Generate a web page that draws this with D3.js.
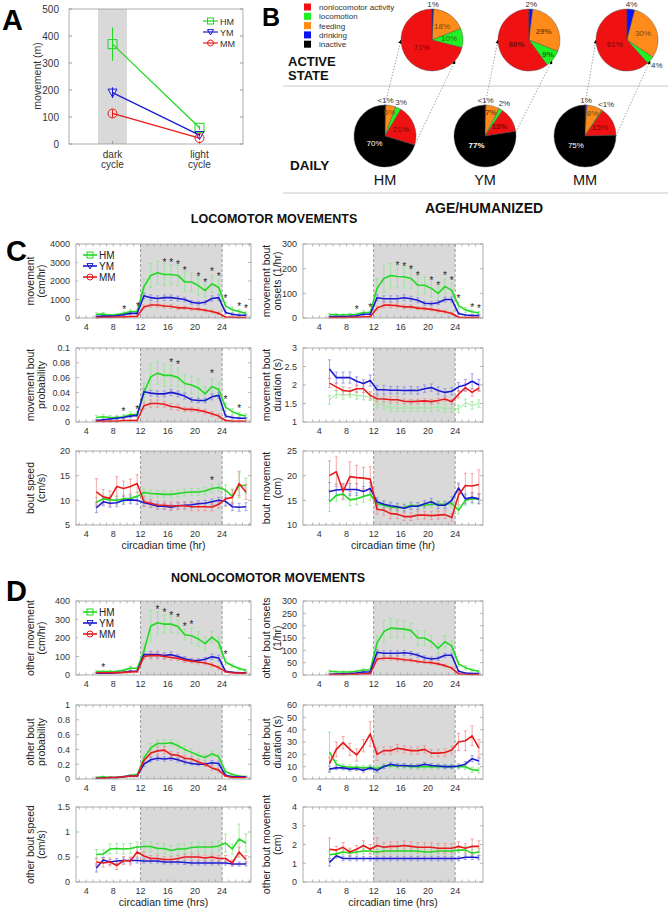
<!DOCTYPE html>
<html><head><meta charset="utf-8">
<script src="https://cdn.jsdelivr.net/npm/d3@7"></script>
<style>body{margin:0;background:#fff} svg{display:block} text{font-family:"Liberation Sans",Arial,sans-serif}</style>
</head><body><svg id="c" width="668" height="912"></svg>
<script>
// ---------------- DATA ----------------
const groups = ["HM", "YM", "MM"];
const hours = [5.5,6.5,7.5,8.5,9.5,10.5,11.5,12.5,13.5,14.5,15.5,16.5,17.5,18.5,19.5,20.5,21.5,22.5,23.5,24.5,25.5,26.5,27.5];
const xTickLabels = [4, 8, 12, 16, 20, 24];

// Panel A
const cycles = ["dark", "light"];
const aHM = [370, 60], aHMerr = [62, 8];
const aYM = [190, 33], aYMerr = [20, 5];
const aMM = [113, 22], aMMerr = [15, 4];
const aTicks = [0, 100, 200, 300, 400, 500];

// Panel B
const pieCats = ["drinking", "feeding", "locomotion", "nonlocomotor activity", "inactive"];
const legendCats = ["nonlocomotor activity", "locomotion", "feeding", "drinking", "inactive"];
const activeHM = [1, 18, 10, 71, 0], activeHMlab = ["1%", "18%", "10%", "71%", ""];
const activeYM = [2, 29, 9, 60, 0], activeYMlab = ["2%", "29%", "9%", "60%", ""];
const activeMM = [4, 30, 4, 61, 0], activeMMlab = ["4%", "30%", "4%", "61%", ""];
const dailyHM = [0.5, 5, 3, 21, 70], dailyHMlab = ["<1%", "5%", "3%", "21%", "70%"];
const dailyYM = [0.5, 7, 2, 13, 77], dailyYMlab = ["<1%", "7%", "2%", "13%", "77%"];
const dailyMM = [1, 8, 0.5, 15, 75], dailyMMlab = ["1%", "8%", "<1%", "15%", "75%"];

// Panel C row 1 left: movement (cm/hr)
const c1L_HM = [200,220,150,180,250,350,350,1700,2300,2450,2350,2350,2300,1950,1950,1750,1480,1850,1650,650,450,350,250];
const c1L_HMe = [80,80,60,60,80,100,100,400,650,600,600,550,550,550,500,500,350,450,400,200,150,100,80];
const c1L_YM = [80,100,100,120,180,250,250,1200,1100,1050,1100,1100,1050,1000,850,800,850,1050,1100,300,200,150,150];
const c1L_YMe = [40,40,40,40,50,60,60,150,150,150,150,150,130,120,100,100,100,150,150,80,60,50,50];
const c1L_MM = [30,40,40,50,60,80,80,600,700,700,650,620,550,550,500,480,420,350,250,50,40,30,30];
const c1L_MMe = [20,20,20,20,20,30,30,100,120,120,100,100,100,90,80,80,80,80,70,30,20,20,20];
const c1L_stars = [[9.6,540],[11.6,660],[15.5,3050],[16.5,3050],[17.5,2960],[18.5,2600],[20.5,2280],[21.5,1970],[22.5,2560],[23.5,2280],[24.5,1130],[26.5,700],[27.5,590]];
const c1L_ticks = [0,1000,2000,3000,4000];

// C row 1 right: movement bout onsets (1/hr)
const c1R_HM = [13,13,12,14,15,22,22,120,160,172,168,167,160,133,133,120,100,128,112,50,33,25,20];
const c1R_HMe = [5,5,5,5,5,8,8,40,55,50,45,45,40,40,35,35,30,30,30,15,10,8,6];
const c1R_YM = [5,6,6,7,9,15,15,82,78,78,78,82,78,72,60,58,62,75,75,18,12,10,10];
const c1R_YMe = [2,2,2,2,3,4,4,12,12,12,12,12,10,10,8,8,8,10,10,5,3,3,3];
const c1R_MM = [2,2,2,3,3,5,5,40,52,52,50,45,45,40,38,35,30,25,18,3,2,2,2];
const c1R_MMe = [1,1,1,1,1,2,2,8,10,10,8,8,8,6,6,6,6,6,5,2,1,1,1];
const c1R_stars = [[9.5,40],[11.5,46],[15.5,218],[16.5,211],[17.5,200],[18.5,176],[20.5,156],[21.5,135],[22.5,176],[23.5,155],[24.5,83],[26.5,46],[27.5,42]];
const c1R_ticks = [0,100,200,300];

// C row 2 left: movement bout probability
const c2L_HM = [0.006,0.007,0.006,0.006,0.007,0.01,0.01,0.04,0.061,0.066,0.063,0.063,0.06,0.052,0.05,0.046,0.038,0.048,0.044,0.02,0.014,0.01,0.008];
const c2L_HMe = [0.003,0.003,0.003,0.003,0.003,0.004,0.004,0.012,0.018,0.015,0.015,0.014,0.013,0.012,0.012,0.012,0.01,0.01,0.01,0.006,0.004,0.003,0.003];
const c2L_YM = [0.002,0.003,0.004,0.005,0.006,0.008,0.009,0.041,0.039,0.038,0.038,0.04,0.038,0.035,0.03,0.029,0.029,0.034,0.036,0.008,0.006,0.005,0.005];
const c2L_YMe = [0.001,0.001,0.001,0.002,0.002,0.002,0.002,0.004,0.004,0.004,0.004,0.004,0.004,0.004,0.003,0.003,0.003,0.004,0.004,0.002,0.002,0.001,0.001];
const c2L_MM = [0.001,0.001,0.001,0.001,0.002,0.002,0.002,0.022,0.025,0.025,0.024,0.021,0.02,0.017,0.017,0.016,0.014,0.011,0.008,0.002,0.001,0.001,0.001];
const c2L_MMe = [0.001,0.001,0.001,0.001,0.001,0.001,0.001,0.004,0.005,0.005,0.004,0.004,0.004,0.003,0.003,0.003,0.003,0.003,0.003,0.001,0.001,0.001,0.001];
const c2L_stars = [[9.5,0.016],[11.5,0.018],[16.5,0.082],[17.5,0.079],[22.5,0.067],[24.5,0.032],[26.5,0.019]];
const c2L_ticks = [0,0.02,0.04,0.06,0.08,0.1];

// C row 2 right: movement bout duration (s)
const c2R_HM = [1.6,1.75,1.72,1.75,1.72,1.7,1.68,1.5,1.45,1.38,1.38,1.38,1.38,1.38,1.38,1.38,1.4,1.37,1.37,1.35,1.52,1.45,1.5];
const c2R_HMe = [0.12,0.1,0.1,0.08,0.1,0.1,0.1,0.12,0.1,0.1,0.1,0.1,0.1,0.1,0.1,0.1,0.1,0.1,0.1,0.1,0.1,0.1,0.1];
const c2R_YM = [2.43,2.2,2.2,2.2,2.1,2.04,2.12,1.87,1.87,1.86,1.86,1.85,1.86,1.85,1.9,1.93,1.85,1.8,1.83,1.95,2.0,2.1,2.0];
const c2R_YMe = [0.25,0.15,0.15,0.15,0.12,0.1,0.15,0.12,0.12,0.1,0.1,0.1,0.1,0.1,0.1,0.1,0.1,0.1,0.1,0.12,0.15,0.2,0.15];
const c2R_MM = [2.05,1.95,1.85,1.83,1.9,1.9,1.72,1.63,1.62,1.6,1.6,1.56,1.55,1.56,1.57,1.55,1.58,1.62,1.55,1.75,1.93,1.8,1.92];
const c2R_MMe = [0.12,0.1,0.1,0.1,0.1,0.1,0.1,0.08,0.08,0.08,0.08,0.06,0.06,0.06,0.06,0.06,0.06,0.06,0.06,0.1,0.1,0.1,0.1];
const c2R_ticks = [1,1.5,2,2.5,3];

// C row 3 left: bout speed (cm/s)
const c3L_HM = [9.6,10.3,10.1,10.0,10.3,10.4,10.8,11.6,11.4,11.3,11.2,11.2,11.4,11.6,11.7,11.7,11.9,12.4,12.6,12.1,10.8,13.0,13.0];
const c3L_HMe = [1,0.8,0.8,0.8,0.8,0.8,0.8,0.7,0.7,0.7,0.7,0.7,0.7,0.7,0.7,0.7,0.7,0.8,0.8,1,1.5,2.5,1.5];
const c3L_YM = [8.5,9.7,9.4,9.5,10.0,10.1,10.0,9.5,9.2,8.8,8.8,8.6,8.9,9.0,9.1,9.3,9.4,9.7,10.0,9.8,8.7,8.6,8.7];
const c3L_YMe = [1,0.8,0.8,0.8,0.8,0.8,0.8,0.6,0.6,0.6,0.6,0.6,0.6,0.6,0.6,0.6,0.6,0.6,0.6,0.8,0.8,0.8,0.8];
const c3L_MM = [11.7,10.7,10.4,12.8,12.4,12.8,13.4,9.7,9.4,9.05,9.0,8.85,8.9,8.9,8.7,8.7,8.7,8.65,9.2,10.3,10.6,13.4,11.7];
const c3L_MMe = [2.7,1.5,1.5,2,1.5,1.5,1.8,1,0.8,0.8,0.8,0.8,0.8,0.8,0.8,0.8,0.8,0.8,0.8,1.5,1.5,2.5,1.5];
const c3L_stars = [[22.5,14.3]];
const c3L_ticks = [5,10,15,20];

// C row 3 right: bout movement (cm)
const c3R_HM = [14.7,16.0,16.3,15.1,15.3,15.8,16.2,14.3,14.0,13.6,13.5,13.6,14.0,13.9,14.0,14.2,14.2,14.2,14.4,13.0,15.0,15.3,15.3];
const c3R_HMe = [2,1.2,1.2,1.2,1.2,1.2,1.2,0.8,0.7,0.7,0.7,0.7,0.7,0.7,0.7,0.7,0.7,0.7,0.7,0.8,1,1,1];
const c3R_YM = [16.8,17.1,17.2,17.2,17.2,16.8,17.4,14.7,14.2,13.9,13.7,13.4,13.8,13.8,14.3,14.7,14.0,14.0,15.0,17.5,15.3,15.6,15.3];
const c3R_YMe = [1.8,1.2,1.2,1.2,1.2,1.0,1.2,0.8,0.7,0.7,0.7,0.7,0.7,0.7,0.7,0.7,0.7,0.7,0.7,1,1,1,1];
const c3R_MM = [20.0,20.8,16.8,19.8,19.6,19.5,19.3,13.2,13.0,12.3,12.2,11.7,11.7,12.0,12.0,11.9,12.0,12.1,11.5,16.1,18.0,17.9,18.2];
const c3R_MMe = [3,3,1.5,3,2.5,2.2,2.5,1,1,1,0.9,0.8,0.8,0.8,0.8,0.8,0.8,0.8,0.8,2,2.5,2.5,3];
const c3R_ticks = [10,15,20,25];

// D row 1 left: other movement (cm/hr)
const d1L_HM = [18,18,18,20,25,38,35,130,265,282,275,275,262,218,212,195,170,205,175,70,50,35,25];
const d1L_HMe = [5,5,5,5,6,8,8,40,85,60,50,45,35,30,40,40,35,30,30,15,10,8,6];
const d1L_YM = [10,10,10,12,15,20,20,110,110,110,105,110,100,88,80,78,85,98,92,20,15,12,12];
const d1L_YMe = [3,3,3,3,3,4,4,18,18,18,15,15,12,12,10,10,10,15,15,5,3,3,3];
const d1L_MM = [12,12,12,13,14,16,18,100,105,105,100,95,90,80,75,70,65,55,40,18,12,10,10];
const d1L_MMe = [3,3,3,3,3,4,4,15,18,18,15,15,12,12,10,10,10,10,8,4,3,3,3];
const d1L_stars = [[6.5,48],[14.5,357],[15.5,343],[16.5,329],[17.5,316],[18.5,268],[19.5,277],[24.5,116]];
const d1L_ticks = [0,100,200,300,400];

// D row 1 right: other bout onsets (1/hr)
const d1R_HM = [15,13,12,12,15,20,20,130,176,190,188,186,180,150,150,135,108,135,118,45,30,20,15];
const d1R_HMe = [4,4,4,4,4,5,5,30,45,40,35,35,30,30,30,25,20,25,20,10,8,5,4];
const d1R_YM = [3,4,5,6,8,12,12,92,88,88,88,90,87,80,70,65,68,80,80,15,8,6,6];
const d1R_YMe = [1,1,1,1,2,2,2,10,10,10,10,10,8,8,8,8,8,8,8,3,2,2,2];
const d1R_MM = [2,2,2,3,3,5,5,65,68,68,66,62,60,55,52,50,45,38,28,5,3,2,2];
const d1R_MMe = [1,1,1,1,1,1,1,8,8,8,8,7,7,6,6,6,5,5,5,2,1,1,1];
const d1R_ticks = [0,50,100,150,200,250,300];

// D row 2 left: other bout probability
const d2L_HM = [0.02,0.03,0.02,0.02,0.03,0.05,0.06,0.28,0.42,0.48,0.48,0.49,0.45,0.40,0.36,0.32,0.29,0.34,0.30,0.10,0.06,0.04,0.03];
const d2L_HMe = [0.01,0.01,0.01,0.01,0.01,0.01,0.01,0.05,0.06,0.05,0.05,0.04,0.05,0.05,0.05,0.04,0.04,0.04,0.04,0.02,0.01,0.01,0.01];
const d2L_YM = [0.01,0.01,0.02,0.02,0.03,0.04,0.04,0.2,0.26,0.28,0.27,0.28,0.26,0.23,0.21,0.2,0.2,0.22,0.21,0.05,0.03,0.03,0.03];
const d2L_YMe = [0.005,0.005,0.005,0.005,0.005,0.01,0.01,0.03,0.03,0.03,0.03,0.03,0.03,0.03,0.02,0.02,0.02,0.03,0.03,0.01,0.005,0.005,0.005];
const d2L_MM = [0.01,0.01,0.02,0.02,0.03,0.04,0.04,0.25,0.35,0.38,0.39,0.33,0.32,0.28,0.27,0.23,0.2,0.15,0.12,0.04,0.02,0.02,0.02];
const d2L_MMe = [0.005,0.005,0.005,0.005,0.005,0.01,0.01,0.04,0.05,0.05,0.05,0.04,0.04,0.04,0.03,0.03,0.03,0.03,0.03,0.01,0.005,0.005,0.005];
const d2L_ticks = [0,0.2,0.4,0.6,0.8,1];

// D row 2 right: other bout duration (s)
const d2R_HM = [22,12,10,9.5,9.5,9,9.5,8.5,10.5,11,10.5,10.5,10,10,10,10,10,10,10,10,10,7.5,7];
const d2R_HMe = [16,3,2,2,2,2,2,2,2,2,2,2,2,2,2,2,2,2,2,2,2,2,2];
const d2R_YM = [8,9,9,8,8.5,7,9,7,10,12,11,11,10.5,10.5,12,11,10.5,10,10,10.5,12,16.5,14.5];
const d2R_YMe = [2.5,1.5,1.5,1.5,1.5,1.5,1.5,1.5,1.5,1.5,1.5,1.5,1.5,1.5,1.5,1.5,1.5,1.5,1.5,1.5,2,2.5,2.5];
const d2R_MM = [12.5,24,29.5,24,19.5,27,36.5,20,23,23,25,24,23,23,24,21,21,21.5,23.5,30,31,35,25];
const d2R_MMe = [5,6,5,5,5,5,10,5,3,3,3,3,3,3,3,3,3,3,3,7,8,8,7];
const d2R_ticks = [0,10,20,30,40,50,60];

// D row 3 left: other bout speed (cm/s)
const d3L_HM = [0.55,0.56,0.66,0.67,0.66,0.67,0.7,0.71,0.71,0.67,0.67,0.63,0.66,0.66,0.69,0.7,0.7,0.7,0.72,0.78,0.66,0.86,0.78];
const d3L_HMe = [0.1,0.08,0.1,0.1,0.1,0.1,0.1,0.1,0.1,0.1,0.1,0.1,0.1,0.1,0.1,0.1,0.1,0.1,0.1,0.18,0.1,0.3,0.18];
const d3L_YM = [0.28,0.44,0.4,0.42,0.43,0.43,0.43,0.42,0.42,0.42,0.4,0.4,0.4,0.39,0.38,0.38,0.38,0.38,0.38,0.38,0.36,0.36,0.36];
const d3L_YMe = [0.08,0.05,0.05,0.05,0.05,0.05,0.05,0.04,0.04,0.04,0.04,0.04,0.04,0.04,0.04,0.04,0.04,0.04,0.04,0.04,0.04,0.04,0.04];
const d3L_MM = [0.4,0.38,0.4,0.33,0.43,0.42,0.6,0.52,0.47,0.47,0.45,0.45,0.47,0.5,0.5,0.5,0.48,0.5,0.47,0.47,0.38,0.6,0.45];
const d3L_MMe = [0.08,0.08,0.08,0.08,0.08,0.08,0.1,0.08,0.06,0.06,0.06,0.06,0.06,0.06,0.06,0.06,0.06,0.06,0.06,0.06,0.06,0.1,0.08];
const d3L_ticks = [0,0.5,1,1.5];

// D row 3 right: other bout movement (cm)
const d3R_HM = [1.45,1.5,1.6,1.55,1.6,1.65,1.65,1.6,1.65,1.65,1.65,1.65,1.65,1.65,1.6,1.6,1.65,1.65,1.65,1.7,1.7,1.55,1.6];
const d3R_HMe = [0.2,0.15,0.15,0.15,0.15,0.15,0.15,0.15,0.15,0.15,0.15,0.15,0.15,0.15,0.15,0.15,0.15,0.15,0.15,0.15,0.2,0.2,0.2];
const d3R_YM = [1.05,1.4,1.25,1.25,1.25,1.25,1.25,1.25,1.25,1.25,1.25,1.25,1.25,1.25,1.25,1.25,1.25,1.25,1.25,1.25,1.32,1.32,1.3];
const d3R_YMe = [0.2,0.12,0.12,0.12,0.12,0.12,0.12,0.12,0.12,0.12,0.12,0.12,0.12,0.12,0.12,0.12,0.12,0.12,0.12,0.12,0.12,0.12,0.12];
const d3R_MM = [1.75,1.7,1.85,1.6,1.75,1.95,1.75,1.95,1.85,1.9,1.9,1.95,1.9,1.85,1.85,1.85,1.8,1.8,1.8,1.9,1.8,1.9,1.9];
const d3R_MMe = [0.6,0.2,0.25,0.2,0.2,0.25,0.25,0.4,0.25,0.25,0.25,0.25,0.25,0.25,0.25,0.25,0.25,0.25,0.25,0.25,0.25,0.4,0.3];
const d3R_ticks = [0,1,2,3,4];

// ---------------- DRAWING ----------------
const svg = d3.select("#c");
const lineColor = {HM: "#22d822", YM: "#1a1ad0", MM: "#e81a1a"};
const errColor = {HM: "#8de88d", YM: "#8c8ce6", MM: "#f09090"};
const fadedColor = {HM: "#9be89b", YM: "#1a1ad0", MM: "#e81a1a"};

function txt(g, x, y, s, size, opts = {}) {
  const t = g.append("text").attr("x", x).attr("y", y).text(s)
    .attr("font-size", size).attr("fill", opts.fill || "#222")
    .attr("text-anchor", opts.anchor || "start");
  if (opts.weight) t.attr("font-weight", opts.weight);
  if (opts.rotate) t.attr("transform", `rotate(-90,${x},${y})`);
  if (opts.baseline) t.attr("dominant-baseline", opts.baseline);
  return t;
}

function marker(g, grp, cx, cy, size, color) {
  if (grp === "HM") {
    g.append("rect").attr("x", cx - size/2).attr("y", cy - size/2).attr("width", size).attr("height", size)
      .attr("fill", "none").attr("stroke", color).attr("stroke-width", 1);
  } else if (grp === "YM") {
    const s = size/2;
    g.append("path").attr("d", `M${cx-s},${cy-s*0.8}L${cx+s},${cy-s*0.8}L${cx},${cy+s}Z`)
      .attr("fill", "none").attr("stroke", color).attr("stroke-width", 1);
  } else {
    g.append("circle").attr("cx", cx).attr("cy", cy).attr("r", size/2)
      .attr("fill", "none").attr("stroke", color).attr("stroke-width", 1);
  }
}

// ---- Panel A ----
(function() {
  const g = svg.append("g");
  const x = d3.scalePoint().domain(cycles).range([69, 243]).padding(0.5);
  const y = d3.scaleLinear().domain([0, 500]).range([144, 9]);
  const bw = 29;
  g.append("rect").attr("x", x("dark") - bw/2).attr("y", y(500)).attr("width", bw).attr("height", y(0) - y(500)).attr("fill", "#d9d9d9");
  g.append("rect").attr("x", 69).attr("y", y(500)).attr("width", 174).attr("height", y(0) - y(500))
    .attr("fill", "none").attr("stroke", "#999").attr("stroke-width", 0.8);
  aTicks.forEach(v => {
    g.append("line").attr("x1", 69).attr("x2", 72).attr("y1", y(v)).attr("y2", y(v)).attr("stroke", "#999");
    g.append("line").attr("x1", 240).attr("x2", 243).attr("y1", y(v)).attr("y2", y(v)).attr("stroke", "#999");
    txt(g, 59, y(v) + 3.5, d3.format("~g")(v), 10, {anchor: "end", fill: "#333"});
  });
  cycles.forEach(c => {
    g.append("line").attr("x1", x(c)).attr("x2", x(c)).attr("y1", 144).attr("y2", 141).attr("stroke", "#999");
    txt(g, x(c), 158, c, 10, {anchor: "middle", fill: "#333"});
    txt(g, x(c), 168, "cycle", 10, {anchor: "middle", fill: "#333"});
  });
  txt(g, 41, 76, "movement (m)", 10.5, {anchor: "middle", rotate: true, fill: "#333"});
  const sets = [["HM", aHM, aHMerr], ["YM", aYM, aYMerr], ["MM", aMM, aMMerr]];
  sets.forEach(([grp, vals, errs]) => {
    const col = lineColor[grp];
    g.append("path").datum(vals).attr("d", d3.line().x((d, i) => x(cycles[i])).y(d => y(d)))
      .attr("fill", "none").attr("stroke", col).attr("stroke-width", 1.3);
    vals.forEach((v, i) => {
      g.append("line").attr("x1", x(cycles[i])).attr("x2", x(cycles[i])).attr("y1", y(v - errs[i])).attr("y2", y(v + errs[i]))
        .attr("stroke", col).attr("stroke-width", 1);
      marker(g, grp, x(cycles[i]), y(v), 9, col);
    });
  });
  groups.forEach((grp, i) => {
    const ly = 21 + i * 11;
    g.append("line").attr("x1", 203).attr("x2", 218).attr("y1", ly).attr("y2", ly).attr("stroke", lineColor[grp]).attr("stroke-width", 1.2);
    marker(g, grp, 210.5, ly, 6, lineColor[grp]);
    txt(g, 220, ly + 3.5, grp, 9, {fill: "#333"});
  });
  txt(g, 2, 30, "A", 29, {weight: "bold", fill: "#000"});
})();

// ---- Panel B ----
(function() {
  const g = svg.append("g");
  const pieColors = {"drinking": "#0a14f0", "feeding": "#ff8c1a", "locomotion": "#22f022", "nonlocomotor activity": "#f01212", "inactive": "#000000"};
  txt(g, 262, 26, "B", 25, {weight: "bold", fill: "#000"});
  legendCats.forEach((c, i) => {
    const ly = 7 + i * 9.3;
    g.append("rect").attr("x", 304).attr("y", ly - 3.5).attr("width", 7).attr("height", 7).attr("fill", pieColors[c]);
    txt(g, 319, ly + 3, c, 8, {fill: "#333"});
  });
  g.append("line").attr("x1", 283).attr("x2", 668).attr("y1", 86).attr("y2", 86).attr("stroke", "#c8c8c8");
  g.append("line").attr("x1", 283).attr("x2", 668).attr("y1", 193).attr("y2", 193).attr("stroke", "#c8c8c8");
  txt(g, 288, 65.5, "ACTIVE", 13, {weight: "bold", fill: "#111"});
  txt(g, 288, 80, "STATE", 13, {weight: "bold", fill: "#111"});
  txt(g, 290, 170, "DAILY", 13.5, {weight: "bold", fill: "#111"});

  const defs = svg.append("defs");
  defs.append("marker").attr("id", "arr").attr("viewBox", "0 0 10 10").attr("refX", 9).attr("refY", 5)
    .attr("markerWidth", 5).attr("markerHeight", 5).attr("orient", "auto")
    .append("path").attr("d", "M0,0L10,5L0,10Z").attr("fill", "#000");

  const pie = d3.pie().sort(null).value(d => d);
  function drawPie(cx, cy, r, vals, labs, bold) {
    const pg = g.append("g").attr("transform", `translate(${cx},${cy})`);
    const arcs = pie(vals);
    const arc = d3.arc().innerRadius(0).outerRadius(r);
    pg.selectAll("path.s").data(arcs).join("path").attr("d", arc)
      .attr("fill", (d, i) => pieColors[pieCats[i]]).attr("stroke", "#444").attr("stroke-width", 0.4);
    arcs.forEach((a, i) => {
      if (!labs[i]) return;
      const mid = (a.startAngle + a.endAngle) / 2;
      const frac = vals[i] / 100;
      let rr, fill;
      if (frac < 0.05) {
        rr = r + 4 + Math.abs(Math.sin(mid)) * 6;
        fill = "#333";
      } else {
        rr = frac < 0.1 ? r * 0.78 : (frac > 0.5 ? r * 0.42 : r * 0.55);
        fill = pieCats[i] === "inactive" ? "#fff" : d3.color(pieColors[pieCats[i]]).darker(2).formatHex();
      }
      const lx = rr * Math.sin(mid);
      const ly = Math.max(-rr * Math.cos(mid), 4.5 - cy);
      txt(pg, lx, ly, labs[i], 8, {anchor: "middle", baseline: "central", fill: fill, weight: bold && frac >= 0.05 ? "bold" : null});
    });
  }
  const actives = [[activeHM, activeHMlab], [activeYM, activeYMlab], [activeMM, activeMMlab]];
  const dailies = [[dailyHM, dailyHMlab], [dailyYM, dailyYMlab], [dailyMM, dailyMMlab]];
  const actX = [432, 529, 627], dayX = [385, 485, 585];
  const actY = 40, dayY = 136, rA = 31, rD = 31;
  groups.forEach((grp, i) => {
    const dv = dailies[i][0];
    const activeFrac = (100 - dv[4]) / 100;
    const a2 = activeFrac * 2 * Math.PI;
    const b2 = 132 * Math.PI / 180;
    g.append("line").attr("x1", dayX[i]).attr("y1", dayY - rD).attr("x2", actX[i] - rA).attr("y2", actY)
      .attr("stroke", "#777").attr("stroke-width", 0.8).attr("stroke-dasharray", "1.2,1.8").attr("marker-end", "url(#arr)");
    g.append("line").attr("x1", dayX[i] + rD * Math.sin(a2)).attr("y1", dayY - rD * Math.cos(a2))
      .attr("x2", actX[i] + rA * Math.sin(b2)).attr("y2", actY - rA * Math.cos(b2))
      .attr("stroke", "#777").attr("stroke-width", 0.8).attr("stroke-dasharray", "1.2,1.8").attr("marker-end", "url(#arr)");
    drawPie(actX[i], actY, rA, actives[i][0], actives[i][1], grp === "YM");
    drawPie(dayX[i], dayY, rD, dailies[i][0], dailies[i][1], grp === "YM");
    txt(g, dayX[i], 185, grp, 14.5, {anchor: "middle", fill: "#111"});
  });
})();

// ---- Section titles ----
txt(svg, 484, 213, "AGE/HUMANIZED", 14, {anchor: "middle", weight: "bold", fill: "#111"});
txt(svg, 274, 223, "LOCOMOTOR MOVEMENTS", 12.5, {anchor: "middle", weight: "bold", fill: "#111"});
txt(svg, 268, 582, "NONLOCOMOTOR MOVEMENTS", 12.5, {anchor: "middle", weight: "bold", fill: "#111"});
txt(svg, 6, 261, "C", 29, {weight: "bold", fill: "#000"});
txt(svg, 6, 601, "D", 29, {weight: "bold", fill: "#000"});

// ---- time-course panels ----
const COLS = [
  {x0: 76, x1: 251, d: [2.5, 28.25], l1: 34, l2: 45},
  {x0: 303, x1: 483, d: [1.6, 28.1], l1: 270, l2: 281}
];
const panels = [
  {col: 0, top: 244, bottom: 318, dom: [0, 4000], ticks: c1L_ticks, lab: ["movement", "(cm/hr)"], s: [c1L_HM, c1L_YM, c1L_MM], e: [c1L_HMe, c1L_YMe, c1L_MMe], stars: c1L_stars, legend: [255, 266, 277]},
  {col: 1, top: 244, bottom: 318, dom: [0, 300], ticks: c1R_ticks, lab: ["movement bout", "onsets (1/hr)"], s: [c1R_HM, c1R_YM, c1R_MM], e: [c1R_HMe, c1R_YMe, c1R_MMe], stars: c1R_stars},
  {col: 0, top: 348, bottom: 422, dom: [0, 0.1], ticks: c2L_ticks, lab: ["movement bout", "probability"], s: [c2L_HM, c2L_YM, c2L_MM], e: [c2L_HMe, c2L_YMe, c2L_MMe], stars: c2L_stars},
  {col: 1, top: 348, bottom: 422, dom: [1, 3], ticks: c2R_ticks, lab: ["movement bout", "duration (s)"], s: [c2R_HM, c2R_YM, c2R_MM], e: [c2R_HMe, c2R_YMe, c2R_MMe], faded: true},
  {col: 0, top: 451, bottom: 525, dom: [5, 20], ticks: c3L_ticks, lab: ["bout speed", "(cm/s)"], s: [c3L_HM, c3L_YM, c3L_MM], e: [c3L_HMe, c3L_YMe, c3L_MMe], stars: c3L_stars, xtitle: "circadian time (hr)"},
  {col: 1, top: 451, bottom: 525, dom: [10, 25], ticks: c3R_ticks, lab: ["bout movement", "(cm)"], s: [c3R_HM, c3R_YM, c3R_MM], e: [c3R_HMe, c3R_YMe, c3R_MMe], xtitle: "circadian time (hr)"},
  {col: 0, top: 601, bottom: 675, dom: [0, 400], ticks: d1L_ticks, lab: ["other movement", "(cm/hr)"], s: [d1L_HM, d1L_YM, d1L_MM], e: [d1L_HMe, d1L_YMe, d1L_MMe], stars: d1L_stars, legend: [612, 623, 634]},
  {col: 1, top: 601, bottom: 675, dom: [0, 300], ticks: d1R_ticks, lab: ["other bout onsets", "(1/hr)"], s: [d1R_HM, d1R_YM, d1R_MM], e: [d1R_HMe, d1R_YMe, d1R_MMe]},
  {col: 0, top: 705, bottom: 779, dom: [0, 1], ticks: d2L_ticks, lab: ["other bout", "probability"], s: [d2L_HM, d2L_YM, d2L_MM], e: [d2L_HMe, d2L_YMe, d2L_MMe]},
  {col: 1, top: 705, bottom: 779, dom: [0, 60], ticks: d2R_ticks, lab: ["other bout", "duration (s)"], s: [d2R_HM, d2R_YM, d2R_MM], e: [d2R_HMe, d2R_YMe, d2R_MMe]},
  {col: 0, top: 807, bottom: 882, dom: [0, 1.5], ticks: d3L_ticks, lab: ["other bout speed", "(cm/s)"], s: [d3L_HM, d3L_YM, d3L_MM], e: [d3L_HMe, d3L_YMe, d3L_MMe], xtitle: "circadian time (hrs)"},
  {col: 1, top: 807, bottom: 882, dom: [0, 4], ticks: d3R_ticks, lab: ["other bout movement", "(cm)"], s: [d3R_HM, d3R_YM, d3R_MM], e: [d3R_HMe, d3R_YMe, d3R_MMe], xtitle: "circadian time (hrs)"}
];

panels.forEach(p => {
  const c = COLS[p.col];
  const g = svg.append("g");
  const x = d3.scaleLinear().domain(c.d).range([c.x0, c.x1]);
  const y = d3.scaleLinear().domain(p.dom).range([p.bottom, p.top]);
  const clampY = v => y(Math.max(p.dom[0], Math.min(p.dom[1], v)));
  g.append("rect").attr("x", x(12)).attr("y", p.top).attr("width", x(24) - x(12)).attr("height", p.bottom - p.top).attr("fill", "#d9d9d9");
  d3.range(3, 29).forEach(h => {
    if (x(h) <= c.x0 + 1 || x(h) >= c.x1 - 1) return;
    g.append("line").attr("x1", x(h)).attr("x2", x(h)).attr("y1", p.bottom).attr("y2", p.bottom - 2.5).attr("stroke", "#999").attr("stroke-width", 0.7);
    g.append("line").attr("x1", x(h)).attr("x2", x(h)).attr("y1", p.top).attr("y2", p.top + 2.5).attr("stroke", "#999").attr("stroke-width", 0.7);
  });
  p.ticks.forEach(v => {
    g.append("line").attr("x1", c.x0).attr("x2", c.x0 + 3).attr("y1", y(v)).attr("y2", y(v)).attr("stroke", "#999").attr("stroke-width", 0.7);
    g.append("line").attr("x1", c.x1).attr("x2", c.x1 - 3).attr("y1", y(v)).attr("y2", y(v)).attr("stroke", "#999").attr("stroke-width", 0.7);
    txt(g, c.x0 - 6, y(v) + 3.3, d3.format("~g")(v), 9, {anchor: "end", fill: "#333"});
  });
  xTickLabels.forEach(h => txt(g, x(h), p.bottom + 12, h, 9, {anchor: "middle", fill: "#333"}));
  [12, 24].forEach(h => g.append("line").attr("x1", x(h)).attr("x2", x(h)).attr("y1", p.top).attr("y2", p.bottom)
    .attr("stroke", "#888").attr("stroke-width", 0.8).attr("stroke-dasharray", "3,2"));
  const line = d3.line().x((d, j) => x(hours[j])).y(d => y(d));
  groups.forEach((grp, i) => {
    const vals = p.s[i], errs = p.e[i];
    const ec = errColor[grp];
    hours.forEach((h, j) => {
      const y1 = clampY(vals[j] - errs[j]), y2 = clampY(vals[j] + errs[j]);
      g.append("line").attr("x1", x(h)).attr("x2", x(h)).attr("y1", y1).attr("y2", y2).attr("stroke", ec).attr("stroke-width", 0.8);
      [y1, y2].forEach(yy => g.append("line").attr("x1", x(h) - 1.6).attr("x2", x(h) + 1.6).attr("y1", yy).attr("y2", yy).attr("stroke", ec).attr("stroke-width", 0.8));
    });
  });
  groups.forEach((grp, i) => {
    g.append("path").datum(p.s[i]).attr("d", line).attr("fill", "none")
      .attr("stroke", p.faded ? fadedColor[grp] : lineColor[grp]).attr("stroke-width", p.faded && grp === "HM" ? 1 : 1.6)
      .attr("stroke-linejoin", "round");
  });
  g.append("rect").attr("x", c.x0).attr("y", p.top).attr("width", c.x1 - c.x0).attr("height", p.bottom - p.top)
    .attr("fill", "none").attr("stroke", "#999").attr("stroke-width", 0.8);
  (p.stars || []).forEach(([h, v]) => txt(g, x(h), y(v) + 4.5, "*", 10, {anchor: "middle", fill: "#222"}));
  const cy = (p.top + p.bottom) / 2;
  txt(g, c.l1, cy, p.lab[0], 10.5, {anchor: "middle", rotate: true, fill: "#222"});
  txt(g, c.l2, cy, p.lab[1], 10.5, {anchor: "middle", rotate: true, fill: "#222"});
  if (p.xtitle) txt(g, (c.x0 + c.x1) / 2, p.bottom + 24, p.xtitle, 10.5, {anchor: "middle", fill: "#222"});
  if (p.legend) {
    g.append("rect").attr("x", c.x0 + 2).attr("y", p.legend[0] - 7).attr("width", 30).attr("height", 34).attr("fill", "#fff");
    groups.forEach((grp, i) => {
      const ly = p.legend[i];
      g.append("line").attr("x1", c.x0 + 7).attr("x2", c.x0 + 21).attr("y1", ly).attr("y2", ly).attr("stroke", lineColor[grp]).attr("stroke-width", 1.6);
      marker(g, grp, c.x0 + 14, ly, 6, lineColor[grp]);
      txt(g, c.x0 + 23, ly + 3.6, grp, 10, {fill: "#222"});
    });
  }
});
</script></body></html>
